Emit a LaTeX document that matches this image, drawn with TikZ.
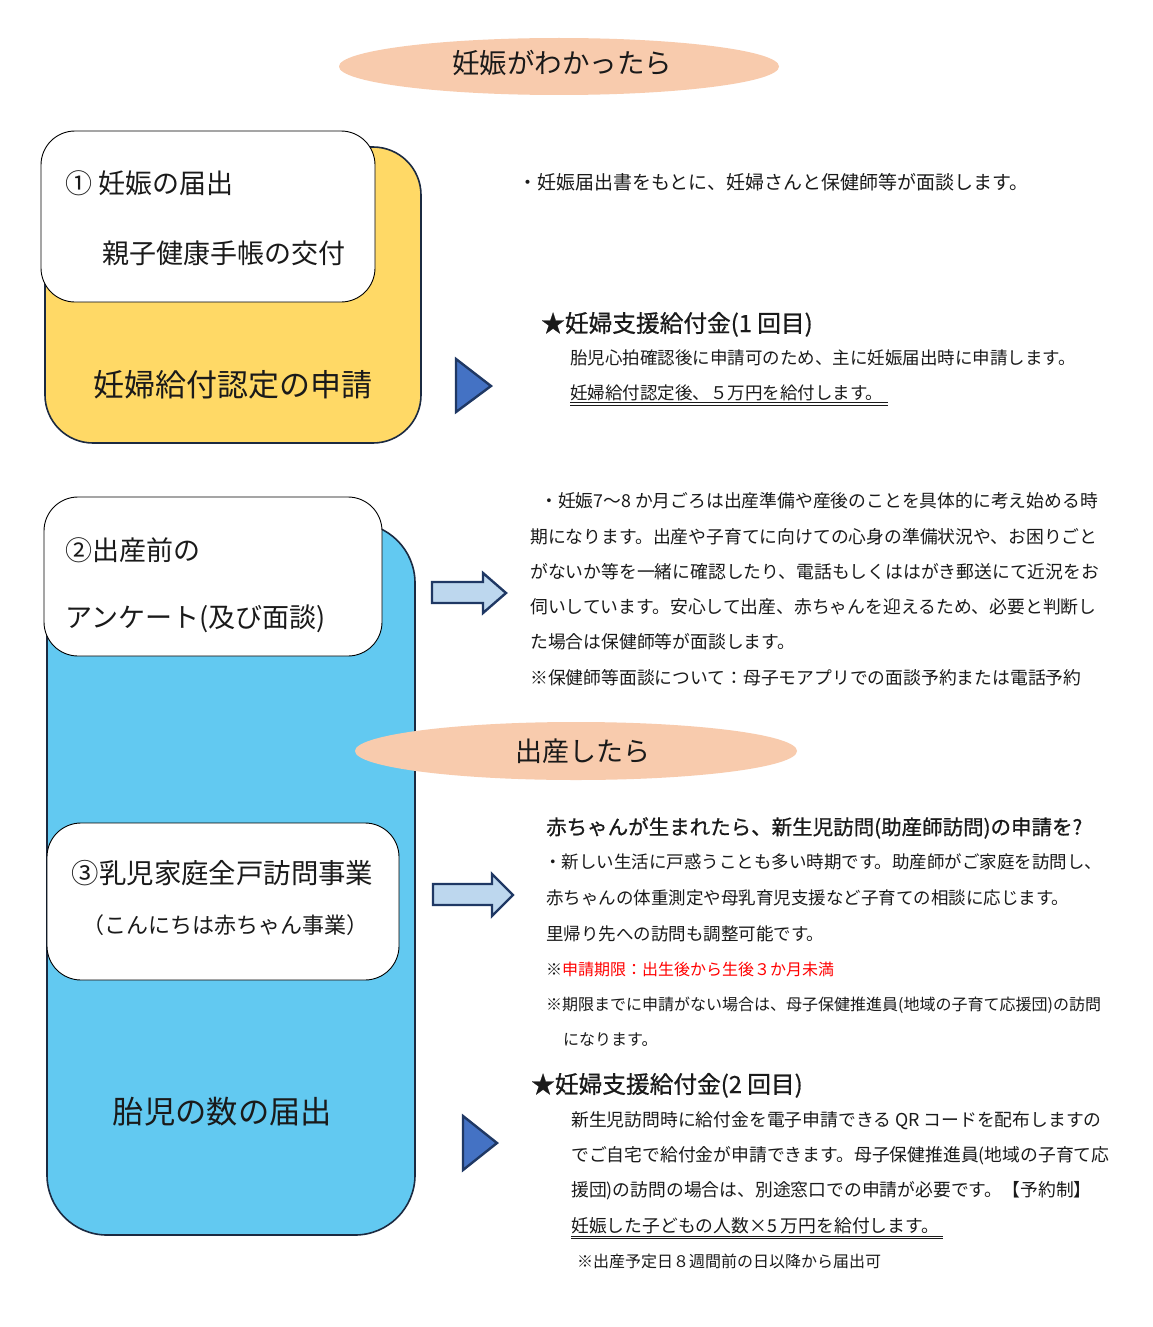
\documentclass[tikz,border=0pt]{standalone}
\usepackage{fontspec}
\setmainfont{Noto Sans CJK JP}
\newfontfamily\headfont{Noto Sans CJK JP}[FakeBold=0.8]
\usetikzlibrary{shapes.geometric}
\definecolor{peach}{HTML}{F8CBAD}
\definecolor{ylw}{HTML}{FFD966}
\definecolor{sky}{HTML}{62C9F1}
\definecolor{navy}{HTML}{1B2A41}
\definecolor{trifill}{HTML}{4472C4}
\definecolor{triline}{HTML}{1F3864}
\definecolor{arrfill}{HTML}{BDD7EE}
\definecolor{ink}{HTML}{1A1A1A}
\begin{document}
\begin{tikzpicture}[x=1pt,y=-1pt,
  colbox/.style={draw=navy,line width=1.6pt,inner sep=0pt,rectangle},
  whitebox/.style={draw=black,line width=0.9pt,fill=white,inner sep=0pt,rectangle,rounded corners=34pt},
  banner/.style={ellipse,fill=peach,inner sep=0pt},
  tri/.style={fill=trifill,draw=triline,line width=2.4pt,line join=miter},
  blockarr/.style={fill=arrfill,draw=triline,line width=2.4pt,line join=miter},
  txt/.style={inner sep=0pt,anchor=base west,text=ink,font=\fontsize{#1}{#1}\selectfont},
  ctxt/.style={inner sep=0pt,anchor=base,text=ink,font=\fontsize{#1}{#1}\selectfont},
  head/.style={inner sep=0pt,anchor=base west,text=ink,font=\headfont\fontsize{#1}{#1}\selectfont},
]
\useasboundingbox (0,0) rectangle (1152,1327);
\fill[white] (0,0) rectangle (1152,1327);

% banners
\node[banner,minimum width=440pt,minimum height=57pt] (ban1) at (559,66.5) {};
\node[ctxt=27.5] (ban1t) at (562,74) {妊娠がわかったら};

% section 1
\node[colbox,fill=ylw,rounded corners=48pt,minimum width=376pt,minimum height=296pt] (ybox) at (233,295) {};
\node[whitebox,minimum width=334pt,minimum height=171pt] (w1) at (208,216.5) {};
\node[txt=27] (w1a) at (65,193) {① 妊娠の届出};
\node[txt=27] (w1b) at (102,263) {親子健康手帳の交付};
\node[ctxt=31] (yt) at (232.5,396.5) {妊婦給付認定の申請};

\draw[tri] (456,359) -- (491,386) -- (456,412) -- cycle;

\node[txt=19] (s1a) at (518,189) {・妊娠届出書をもとに、妊婦さんと保健師等が面談します。};
\node[head=23.7] (s1h) at (541,332) {★妊婦支援給付金(1 回目)};
\node[txt=17.5] (s1b) at (570,364.5) {胎児心拍確認後に申請可のため、主に妊娠届出時に申請します。};
\node[txt=17.5] (s1c) at (570,399.5) {妊婦給付認定後、５万円を給付します。};
\draw[ink,line width=0.9pt] (570,402.8) -- (888,402.8) (570,405.4) -- (888,405.4);

% section 2 / 3 blue box
\node[colbox,fill=sky,rounded corners=60pt,minimum width=368pt,minimum height=712pt] (bbox) at (231,879) {};
\node[whitebox,minimum width=338pt,minimum height=159pt] (w2) at (213,576.5) {};
\node[txt=27] (w2a) at (65,560) {②出産前の};
\node[txt=27] (w2b) at (65,627) {アンケート(及び面談)};

\draw[blockarr] (432,582) -- (483,582) -- (483,573) -- (506,593) -- (483,613) -- (483,603) -- (432,603) -- cycle;

\node[txt=17.8] (s2a) at (540,507.6) {・妊娠7～8 か月ごろは出産準備や産後のことを具体的に考え始める時};
\node[txt=17.8] (s2b) at (530,543.6) {期になります。出産や子育てに向けての心身の準備状況や、お困りごと};
\node[txt=17.8] (s2c) at (530,578.6) {がないか等を一緒に確認したり、電話もしくははがき郵送にて近況をお};
\node[txt=17.8] (s2d) at (530,613.6) {伺いしています。安心して出産、赤ちゃんを迎えるため、必要と判断し};
\node[txt=17.8] (s2e) at (530,648.6) {た場合は保健師等が面談します。};
\node[txt=17.8] (s2f) at (530,684.6) {※保健師等面談について：母子モアプリでの面談予約または電話予約};

\node[banner,minimum width=442pt,minimum height=58pt] (ban2) at (576,751) {};
\node[ctxt=27] (ban2t) at (583,761) {出産したら};

\node[whitebox,minimum width=352pt,minimum height=157pt] (w3) at (223,901.5) {};
\node[ctxt=27.4] (w3a) at (222.5,883) {③乳児家庭全戸訪問事業};
\node[ctxt=22] (w3b) at (225,933) {（こんにちは赤ちゃん事業）};
\node[ctxt=31.3] (bt) at (222.5,1123.5) {胎児の数の届出};

\draw[blockarr] (433,884) -- (492,884) -- (492,874) -- (513,895) -- (492,916) -- (492,905) -- (433,905) -- cycle;
\draw[tri] (463,1116) -- (497,1143) -- (463,1170) -- cycle;

\node[head=20.5] (s3h) at (546,834.6) {赤ちゃんが生まれたら、新生児訪問(助産師訪問)の申請を?};
\node[txt=17.5] (s3a) at (544,868.5) {・新しい生活に戸惑うことも多い時期です。助産師がご家庭を訪問し、};
\node[txt=17.5] (s3b) at (546,904.5) {赤ちゃんの体重測定や母乳育児支援など子育ての相談に応じます。};
\node[txt=17.5] (s3c) at (546,940.5) {里帰り先への訪問も調整可能です。};
\node[txt=16] (s3d) at (546,975) {※\textcolor{red}{申請期限：出生後から生後３か月未満}};
\node[txt=16] (s3e) at (546,1010) {※期限までに申請がない場合は、母子保健推進員(地域の子育て応援団)の訪問};
\node[txt=16] (s3f) at (563,1045) {になります。};

\node[head=23.7] (s4h) at (531,1093) {★妊婦支援給付金(2 回目)};
\node[txt=17.8] (s4a) at (571,1126.6) {新生児訪問時に給付金を電子申請できる QR コードを配布しますの};
\node[txt=17.8] (s4b) at (571,1161.6) {でご自宅で給付金が申請できます。母子保健推進員(地域の子育て応};
\node[txt=17.8] (s4c) at (571,1196.6) {援団)の訪問の場合は、別途窓口での申請が必要です。【予約制】};
\node[txt=17.8] (s4d) at (571,1232.6) {妊娠した子どもの人数×5 万円を給付します。};
\draw[ink,line width=0.9pt] (571,1236.2) -- (943,1236.2) (571,1238.8) -- (943,1238.8);
\node[txt=16] (s4e) at (577,1267) {※出産予定日８週間前の日以降から届出可};
\end{tikzpicture}
\end{document}
